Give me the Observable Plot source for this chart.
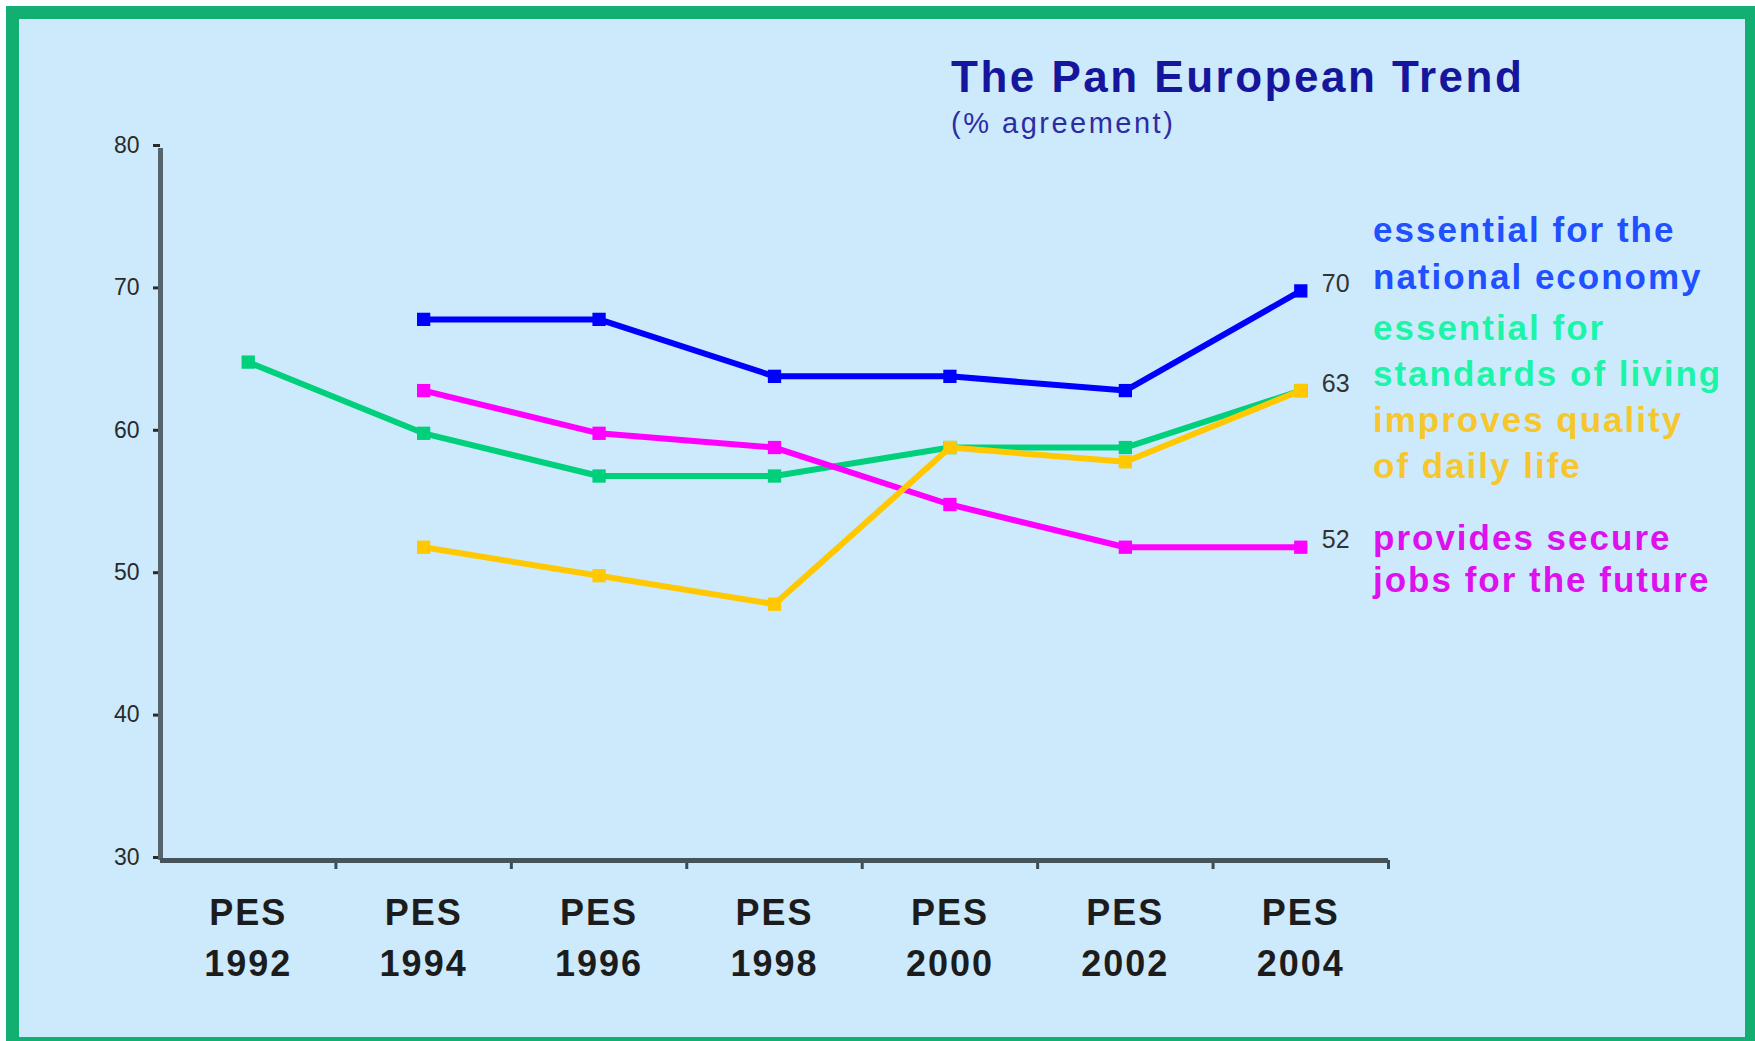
<!DOCTYPE html>
<html>
<head>
<meta charset="utf-8">
<script src="https://cdn.jsdelivr.net/npm/d3@7"></script>
<script src="https://cdn.jsdelivr.net/npm/@observablehq/plot@0.6"></script>
<style>
  html, body { margin: 0; padding: 0; background: #ffffff; overflow: hidden; }
  #wrap { position: relative; width: 1755px; height: 1041px; overflow: hidden; background: #fff; }
  #frame { position: absolute; left: 6px; top: 6px; width: 1752px; height: 1044px; box-sizing: border-box;
           border: 13px solid #13ae72; background: #cdeafd; }
  #chart { position: absolute; left: 0; top: 0; }
  #chart svg { font-family: "Liberation Sans", Arial, sans-serif; }
  [aria-label="x-axis tick label"] text { letter-spacing: 2px; }
</style>
</head>
<body>
<div id="wrap">
  <div id="frame"></div>
  <div id="chart"></div>
</div>
<script>
// ---- data ----
const years = [1992, 1994, 1996, 1998, 2000, 2002, 2004];
const tickPrefix = "PES";
const economy = [null, 68, 68, 64, 64, 63, 70];   // essential for the national economy
const living  = [65, 60, 57, 57, 59, 59, 63];     // essential for standards of living
const quality = [null, 52, 50, 48, 59, 58, 63];   // improves quality of daily life
const jobs    = [null, 63, 60, 59, 55, 52, 52];   // provides secure jobs for the future
const yTicks = [30, 40, 50, 60, 70, 80];
const endValues = [70, 63, 52];
const title = "The Pan European Trend";
const subtitle = "(% agreement)";
const seriesLabels = [
  {lines: ["essential for the", "national economy"], color: "#2050ff"},
  {lines: ["essential for", "standards of living"], color: "#1cf5a8"},
  {lines: ["improves quality", "of daily life"], color: "#f6c72c"},
  {lines: ["provides secure", "jobs for the future"], color: "#dd10ee"}
];

const toRows = vals => years.map((y, i) => ({year: y, value: vals[i]})).filter(d => d.value != null);
const series = [
  {rows: toRows(living),  color: "#00cf7c"},
  {rows: toRows(jobs),    color: "#ff00ff"},
  {rows: toRows(quality), color: "#ffc800"},
  {rows: toRows(economy), color: "#0000ff"}
];
const boundaries = d3.range(1993, 2006, 2);

const marks = [];
series.forEach(s => {
  marks.push(Plot.line(s.rows, {x: "year", y: "value", stroke: s.color, strokeWidth: 6}));
  marks.push(Plot.dot(s.rows, {x: "year", y: "value", symbol: "square", r: 7.5, fill: s.color, stroke: null}));
});

const plot = Plot.plot({
  width: 1755,
  height: 1041,
  marginLeft: 160,
  marginRight: 367,
  marginTop: 148,
  marginBottom: 181,
  style: {background: "transparent", overflow: "visible", fontFamily: "Liberation Sans, Arial, sans-serif"},
  x: {domain: [1991, 2005], label: null},
  y: {domain: [30, 80], label: null},
  marks: [
    Plot.axisY({ticks: yTicks, tickSize: 7, tickPadding: 14, fontSize: 23, color: "#2a2a2a", strokeWidth: 3, dy: -3, label: null}),
    Plot.axisX({ticks: boundaries, tickSize: 9, tickFormat: () => "", color: "#3d4b52", strokeWidth: 3, label: null}),
    Plot.axisX({ticks: years, tickSize: 0, tickPadding: 28, tickFormat: d => `${tickPrefix}\n${d}`,
                fontSize: 36, fontWeight: "bold", lineHeight: 1.42, color: "#1c1c1c", label: null}),
    Plot.ruleX([1991], {y1: 30, y2: 80, stroke: "#56656c", strokeWidth: 5}),
    Plot.ruleY([30], {x1: 1991, x2: 2005, stroke: "#45545b", strokeWidth: 5}),
    ...marks,
    Plot.text(endValues, {x: () => 2004, y: d => d, text: d => String(d), dx: 21, dy: -7,
                          textAnchor: "start", fontSize: 25, fill: "#333"})
  ]
});
document.getElementById("chart").appendChild(plot);

// ---- annotations: title, subtitle, series labels ----
const svg = d3.select(plot);
const g = svg.append("g").attr("text-anchor", "start");
g.append("text").attr("x", 951).attr("y", 92)
  .attr("font-size", 44).attr("font-weight", "bold").attr("fill", "#16169c")
  .attr("letter-spacing", "2.5px").text(title);
g.append("text").attr("x", 951).attr("y", 133)
  .attr("font-size", 29).attr("fill", "#2c2ca4")
  .attr("letter-spacing", "2.5px").text(subtitle);

const baselines = [[242, 289], [340, 386], [432, 478], [550, 592]];
seriesLabels.forEach((s, i) => {
  s.lines.forEach((ln, j) => {
    g.append("text").attr("x", 1373).attr("y", baselines[i][j])
      .attr("font-size", 35).attr("font-weight", "bold").attr("fill", s.color)
      .attr("letter-spacing", "2px").text(ln);
  });
});
</script>
</body>
</html>
